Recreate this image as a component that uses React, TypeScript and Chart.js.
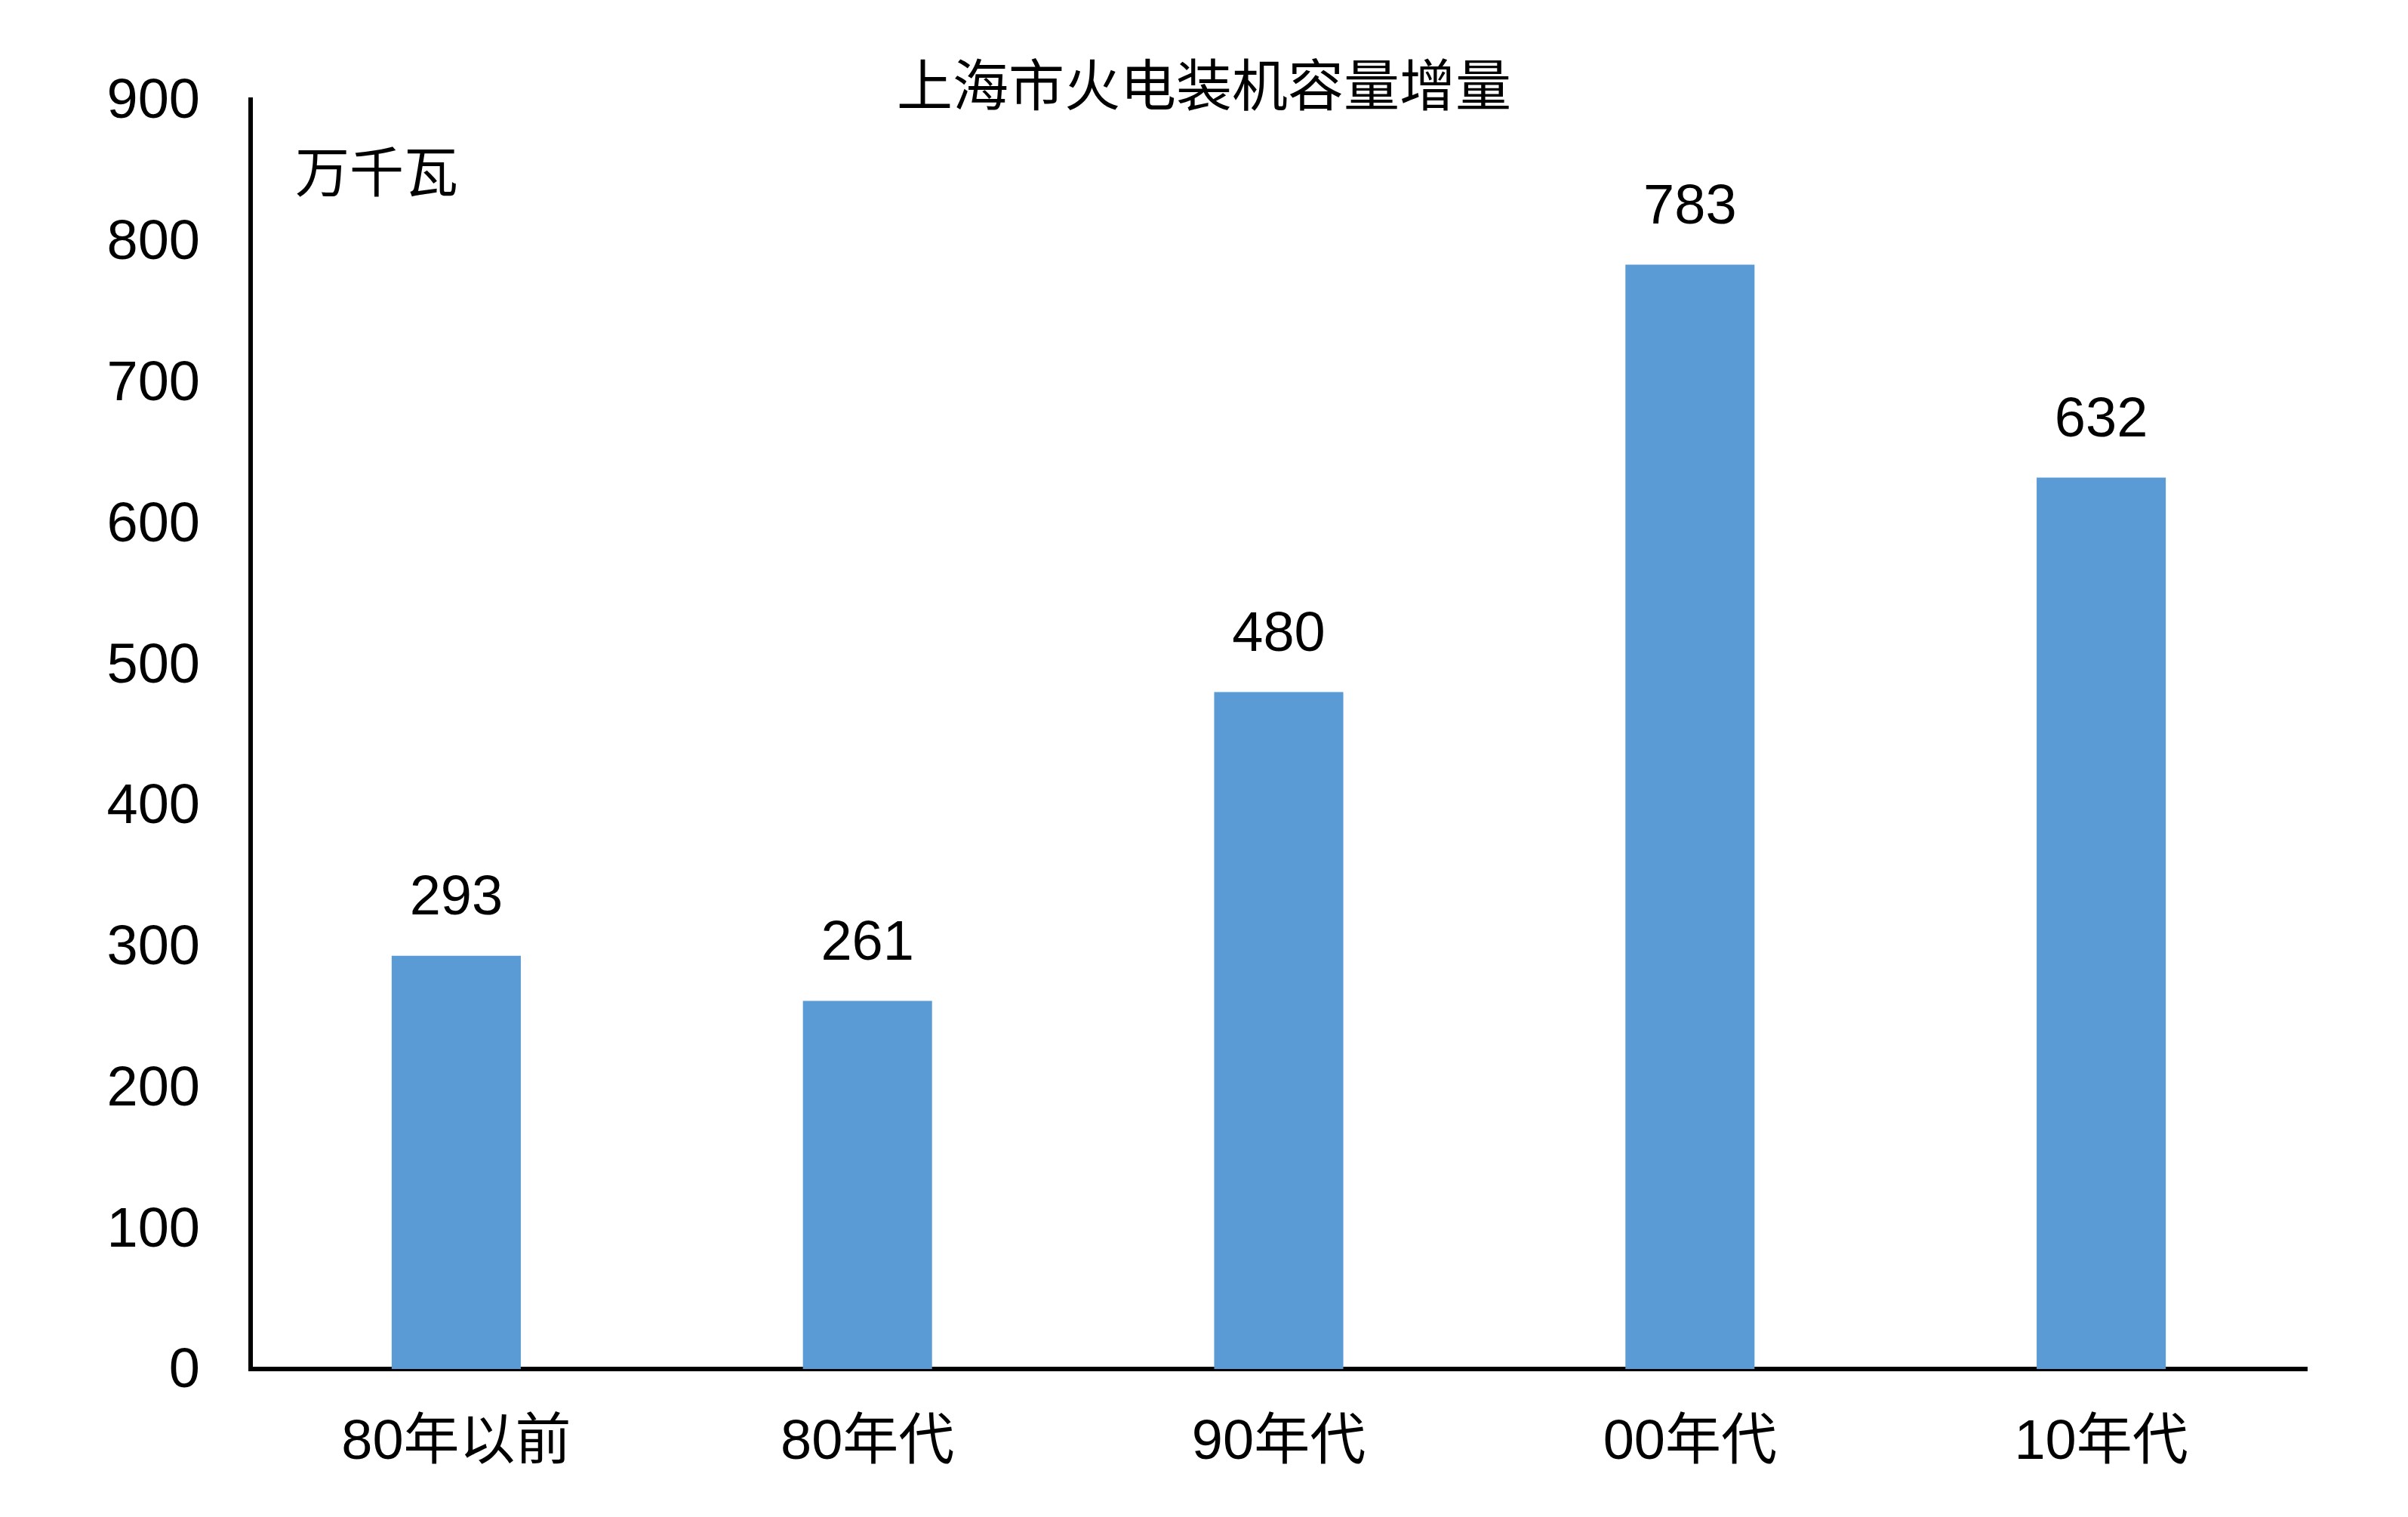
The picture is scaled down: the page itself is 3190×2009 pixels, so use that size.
import React, { useEffect, useRef } from "react";
import { Chart, registerables } from "chart.js";

Chart.register(...registerables);

const categories = ["80年以前", "80年代", "90年代", "00年代", "10年代"];
const values = [293, 261, 480, 783, 632];
const chartTitle = "上海市火电装机容量增量";
const unitLabel = "万千瓦";
const yMin = 0;
const yMax = 900;
const yStep = 100;

const FONT = '"Liberation Sans", Arial, "Noto Sans CJK SC", sans-serif';
const W = 3190;
const H = 2009;

export default function App() {
  const ref = useRef<HTMLCanvasElement | null>(null);
  useEffect(() => {
    if (!ref.current) return;
    const overlay = {
      id: "overlay",
      afterDatasetsDraw(chart: any) {
        const ctx = chart.ctx;
        const meta = chart.getDatasetMeta(0);
        ctx.save();
        ctx.fillStyle = "#000";
        ctx.font = `74px ${FONT}`;
        ctx.textAlign = "center";
        ctx.textBaseline = "middle";
        meta.data.forEach((el: any, i: number) => {
          ctx.fillText(String(values[i]), el.x, el.y - 75);
        });
        ctx.restore();
      },
      afterDraw(chart: any) {
        const ctx = chart.ctx;
        ctx.save();
        ctx.fillStyle = "#000";
        ctx.font = `74px ${FONT}`;
        ctx.textAlign = "center";
        ctx.textBaseline = "middle";
        ctx.fillText(chartTitle, W / 2, 120);
        ctx.font = `72px ${FONT}`;
        ctx.textAlign = "left";
        ctx.fillText(unitLabel, 391, 234);
        ctx.restore();
      },
    };
    const chart = new Chart(ref.current, {
      type: "bar",
      data: {
        labels: categories,
        datasets: [
          {
            data: values,
            backgroundColor: "#5B9BD5",
            borderWidth: 0,
            barPercentage: 0.314,
            categoryPercentage: 1,
          },
        ],
      },
      options: {
        responsive: false,
        devicePixelRatio: 1,
        animation: false,
        layout: { padding: { left: 0, right: 134, top: 132, bottom: 0 } },
        plugins: {
          legend: { display: false },
          title: { display: false },
          tooltip: { enabled: false },
        },
        scales: {
          x: {
            grid: { display: false, drawTicks: false },
            border: { display: true, color: "#000", width: 6 },
            ticks: {
              color: "#000",
              font: { family: FONT, size: 74 },
              padding: 54,
              maxRotation: 0,
            },
            afterFit(s: any) {
              s.height = H - 1813;
            },
          },
          y: {
            min: yMin,
            max: yMax,
            grid: { display: false, drawTicks: false },
            border: { display: true, color: "#000", width: 6 },
            ticks: {
              stepSize: yStep,
              color: "#000",
              font: { family: FONT, size: 74 },
              padding: 67,
              labelOffset: 4,
            },
            afterFit(s: any) {
              s.width = 332;
            },
          },
        },
      },
      plugins: [overlay],
    });
    return () => chart.destroy();
  }, []);
  return (
    <div style={{ position: "absolute", left: 0, top: 0, width: W, height: H, background: "#fff" }}>
      <canvas ref={ref} width={W} height={H} style={{ width: W, height: H, display: "block" }} />
    </div>
  );
}
